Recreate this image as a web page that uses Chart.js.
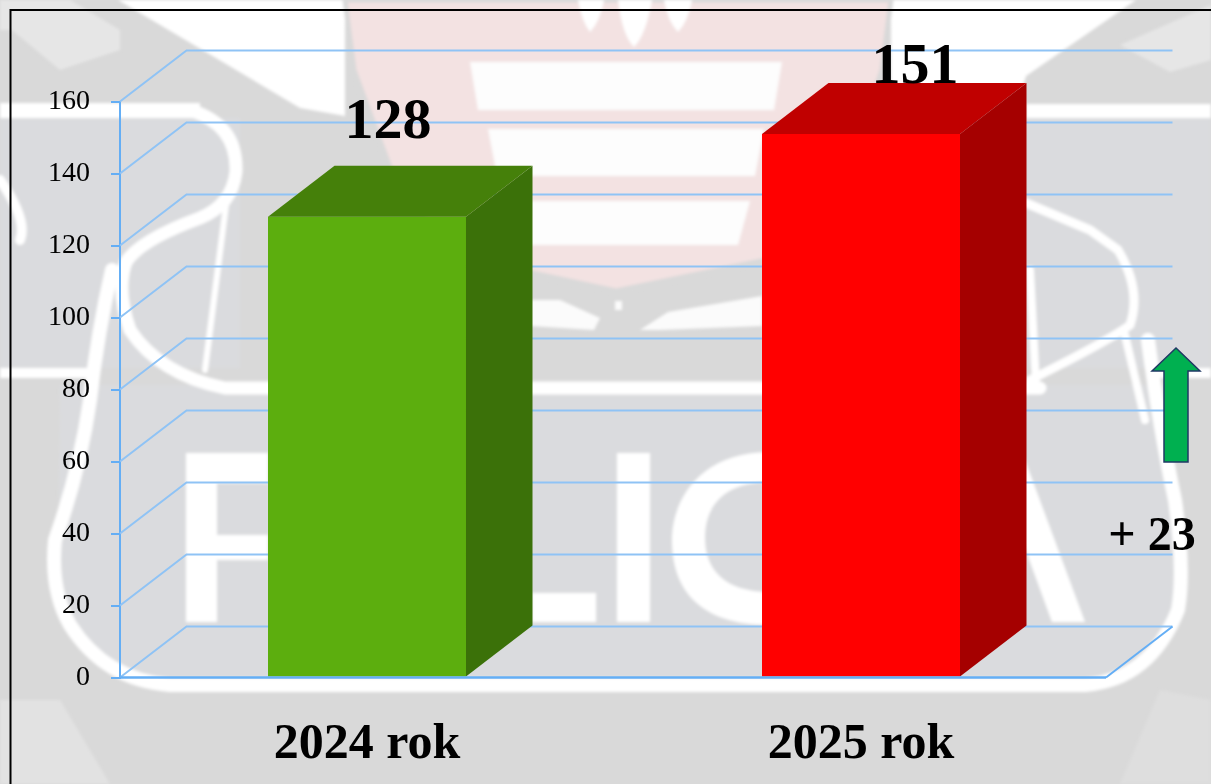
<!DOCTYPE html>
<html lang="pl">
<head>
<meta charset="utf-8">
<title>2024 rok / 2025 rok</title>
<style>
html,body{margin:0;padding:0;width:1211px;height:784px;overflow:hidden;background:#d9d9d9}
#bg{position:absolute;left:0;top:0}
#wrap{position:absolute;left:0;top:0;width:1211px;height:784px}
canvas{display:block}
</style>
<script src="https://cdn.jsdelivr.net/npm/chart.js@4"></script>
</head>
<body>
<svg id="bg" width="1211" height="784" viewBox="0 0 1211 784" aria-hidden="true">
<defs><filter id="b" x="-5%" y="-5%" width="110%" height="110%"><feGaussianBlur stdDeviation="1.4"/></filter></defs>
<rect width="1211" height="784" fill="#d9d9d9"/>
<g filter="url(#b)">
<!-- lighter outer corners -->
<path d="M0 0H70L120 30 120 50 60 70 12 30 0 30Z" fill="#e6e6e6"/>
<path d="M0 700L60 700 110 784H0Z" fill="#e2e2e2"/>
<path d="M1120 45L1211 5V60L1170 72Z" fill="#e6e6e6"/>
<path d="M1120 784L1160 690 1211 700V784Z" fill="#dedede"/>
<!-- white top -->
<path d="M118 0L300 108 345 116V0Z" fill="#fff"/>
<path d="M891 0V90H1022L1026 76 1136 0Z" fill="#fff"/>
<!-- blue-grey panel -->
<rect x="0" y="118" width="240" height="250" fill="#dadbde"/>
<rect x="1026" y="118" width="185" height="250" fill="#dadbde"/>
<path d="M60 385H1165L1185 590Q1170 685 1085 685H160Q70 670 58 590Z" fill="#dadbde"/>
<!-- horizontal white bands -->
<rect x="0" y="103" width="200" height="15" fill="#fff"/>
<rect x="1026" y="104" width="185" height="14" fill="#fff"/>
<rect x="0" y="368" width="90" height="10" fill="#fff"/>
<rect x="1150" y="368" width="61" height="10" fill="#fff"/>
<!-- shield -->
<path d="M345 0L354 70 391 170 450 255 616 291 790 255 848 170 882 70 891 0Z" fill="#f3e2e2" stroke="#d9d9d9" stroke-width="5"/>
<path d="M470 62H782L774 110H478Z M488 129H764L755 176H497Z M497 201H750L738 245H510Z" fill="#fdfdfd"/>
<path d="M578 0H604Q600 22 590 32Q582 22 578 0Z M618 0H652Q646 35 634 47Q622 35 618 0Z M664 0H692Q688 22 678 32Q668 22 664 0Z" fill="#fff"/>
<!-- wings below shield -->
<path d="M530 300H560L600 318 594 330 530 326Z M640 330L668 312 762 296V326L660 330Z" fill="#fbfbfb"/>
<rect x="615" y="301" width="7" height="9" fill="#fbfbfb"/>
<!-- scrolls and loops -->
<g fill="none" stroke="#fff" stroke-linejoin="round" stroke-linecap="round">
<path d="M190 110Q238 125 236 172 232 205 200 218 140 240 126 262 116 290 130 330 160 375 225 388H1040" stroke-width="13"/>
<path d="M226 205L205 370" stroke-width="6"/>
<path d="M112 270Q98 330 90 400 80 470 55 540 50 590 70 625 105 680 170 685H1085Q1150 680 1178 610 1185 570 1175 500 1160 430 1148 340" stroke-width="14"/>
<path d="M1026 203L1090 230 1118 250Q1142 290 1130 325 1110 340 1030 380" stroke-width="9"/>
<path d="M1030 270L1036 385M1125 335L1145 420" stroke-width="8"/>
<path d="M0 180Q28 220 20 240" stroke-width="10"/>
</g>
<!-- faded wordmark -->
<path d="M186 453H268V483H217V535H268V560H217V622H186Z" fill="#fff"/>
<path d="M532 593H596V622H532Z" fill="#fff"/>
<path d="M617 453H650V622H617Z" fill="#fff"/>
<path d="M770 452C700 452 672 500 672 540 672 590 700 625 770 625V592C725 592 705 570 705 538 705 505 725 482 770 482Z" fill="#fff"/>
<path d="M1022 452L1085 622H1052L1022 540Z" fill="#fff"/>
</g>
<!-- frame -->
<path d="M1211 10H10.5V784" fill="none" stroke="#000" stroke-width="2"/>
</svg>
<div id="wrap"><canvas id="c" width="1211" height="784"></canvas></div>
<script>
const categories = ['2024 rok', '2025 rok'];
const values = [128, 151];
const valueLabels = ['128', '151'];
const barFront = ['#5cae0e', '#ff0000'];
const barTop = ['#45800a', '#c00000'];
const barSide = ['#3b7109', '#a50000'];
const yMin = 0, yMax = 160, yStep = 20;
const changeLabel = '+ 23';

const FONT = '"Liberation Serif", serif';
const DX = 66.5, DY = -51;
const AXIS = '#64aef5', GRID = '#8fc3f5';

const walls = {
  id: 'walls',
  beforeDatasetsDraw(chart) {
    const {ctx, chartArea: a, scales: {y}} = chart;
    const r = a.right - 2;
    ctx.save();
    ctx.strokeStyle = GRID; ctx.lineWidth = 2;
    y.ticks.forEach(t => {
      const py = y.getPixelForValue(t.value);
      ctx.beginPath();
      ctx.moveTo(a.left, py);
      ctx.lineTo(a.left + DX, py + DY);
      ctx.lineTo(r + DX, py + DY);
      ctx.stroke();
    });
    const b = y.getPixelForValue(0);
    ctx.beginPath();
    ctx.moveTo(r, b); ctx.lineTo(r + DX, b + DY);
    ctx.strokeStyle = AXIS; ctx.stroke();
    ctx.restore();
  },
  afterDatasetsDraw(chart) {
    const {ctx, chartArea: a, scales: {y}} = chart;
    const meta = chart.getDatasetMeta(0);
    ctx.save();
    meta.data.forEach((bar, i) => {
      const l = bar.x - bar.width / 2, r = bar.x + bar.width / 2, t = bar.y, b = bar.base;
      ctx.fillStyle = barTop[i];
      ctx.beginPath();
      ctx.moveTo(l, t); ctx.lineTo(l + DX, t + DY); ctx.lineTo(r + DX, t + DY); ctx.lineTo(r, t);
      ctx.closePath(); ctx.fill();
      ctx.fillStyle = barSide[i];
      ctx.beginPath();
      ctx.moveTo(r, t); ctx.lineTo(r + DX, t + DY); ctx.lineTo(r + DX, b + DY); ctx.lineTo(r, b);
      ctx.closePath(); ctx.fill();
    });
    // floor front edge
    const py = y.getPixelForValue(0);
    ctx.strokeStyle = AXIS; ctx.lineWidth = 2.5;
    ctx.beginPath(); ctx.moveTo(a.left - 1, py); ctx.lineTo(a.right - 2, py); ctx.stroke();

    // value labels
    ctx.fillStyle = '#000';
    ctx.textAlign = 'center'; ctx.textBaseline = 'alphabetic';
    ctx.font = 'bold 58px ' + FONT;
    const shift = [[21, -79], [54, -51]];
    meta.data.forEach((bar, i) => {
      ctx.fillText(valueLabels[i], bar.x + shift[i][0], bar.y + shift[i][1]);
    });
    // change annotation
    ctx.font = 'bold 48px ' + FONT;
    ctx.fillText(changeLabel, 1152, 550);
    // arrow
    ctx.fillStyle = '#00b050'; ctx.strokeStyle = '#1f3864'; ctx.lineWidth = 1.5;
    ctx.beginPath();
    ctx.moveTo(1176, 348); ctx.lineTo(1200, 371); ctx.lineTo(1188, 371); ctx.lineTo(1188, 462);
    ctx.lineTo(1164, 462); ctx.lineTo(1164, 371); ctx.lineTo(1152, 371); ctx.closePath();
    ctx.fill(); ctx.stroke();
    ctx.restore();
  }
};

new Chart(document.getElementById('c'), {
  type: 'bar',
  data: {
    labels: categories,
    datasets: [{
      data: values,
      backgroundColor: barFront,
      borderWidth: 0,
      categoryPercentage: 1,
      barPercentage: 0.4008
    }]
  },
  options: {
    responsive: false,
    animation: false,
    events: [],
    layout: {padding: {left: 0, right: 103, top: 101.5, bottom: 0}},
    plugins: {legend: {display: false}, tooltip: {enabled: false}, title: {display: false}},
    scales: {
      x: {
        afterFit(s) { s.height = 106.5; },
        grid: {display: false, drawTicks: false},
        border: {display: false},
        ticks: {color: '#000', padding: 38, font: {family: FONT, size: 50, weight: 'bold'}, maxRotation: 0}
      },
      y: {
        min: yMin, max: yMax,
        afterFit(s) { s.width = 120; },
        grid: {drawOnChartArea: false, drawTicks: true, tickLength: 9, color: AXIS, lineWidth: 2},
        border: {display: true, color: AXIS, width: 2},
        ticks: {stepSize: yStep, color: '#000', padding: 21, font: {family: FONT, size: 28}}
      }
    }
  },
  plugins: [walls]
});
</script>
</body>
</html>
